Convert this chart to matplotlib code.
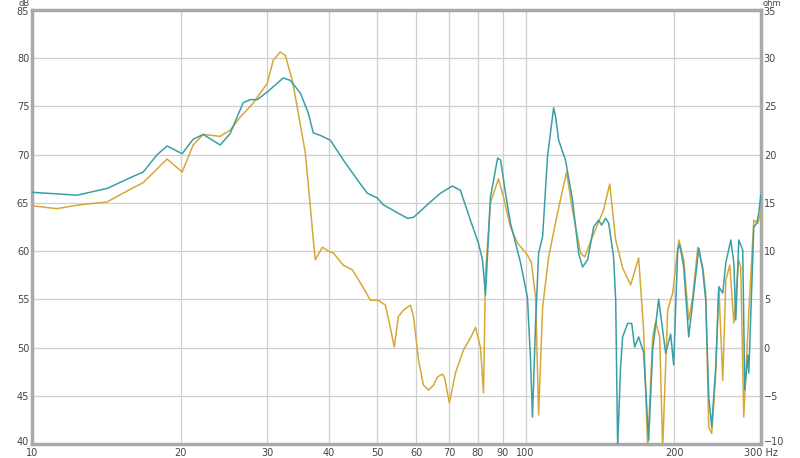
import matplotlib
matplotlib.use("Agg")
import matplotlib.pyplot as plt
import matplotlib.transforms as mtransforms
from matplotlib.ticker import FixedLocator, FixedFormatter, NullLocator

# ---- data (frequency in Hz, level in dB) ----
teal_freq = [10.0, 12.34, 14.2, 15.8, 16.8, 17.93, 18.78, 20.15, 21.21, 22.23, 24.06, 25.21,
             26.79, 27.68, 28.6, 29.97, 32.29, 33.37, 34.97, 36.3, 37.15, 38.39, 40.22, 42.73,
             45.62, 47.8, 50.1, 51.5, 57.63, 59.3, 64.17, 67.24, 71.1, 73.8, 77.34, 80.3, 81.8,
             82.96, 84.9, 87.8, 89.0, 91.1, 93.2, 97.7, 100.9, 102.3, 103.3, 104.8, 106.3, 108.3,
             110.8, 114.0, 115.1, 116.7, 120.5, 124.5, 128.1, 130.5, 133.6, 137.4, 140.6, 142.6,
             145.3, 147.4, 150.8, 152.3, 153.7, 155.8, 157.3, 161.0, 164.1, 166.4, 169.5, 173.5,
             177.6, 181.0, 186.1, 192.3, 196.8, 199.6, 203.4, 205.3, 209.2, 214.1, 219.2, 224.4,
             228.6, 231.8, 235.1, 238.4, 242.9, 246.4, 251.0, 254.6, 260.6, 264.3, 266.7, 270.4,
             275.5, 278.1, 282.1, 283.4, 290.1, 294.2, 296.9, 299.7]
teal_db = [66.1, 65.8, 66.5, 67.6, 68.2, 70.0, 70.9, 70.1, 71.6, 72.1, 71.0, 72.2,
           75.4, 75.7, 75.7, 76.5, 77.95, 77.7, 76.4, 74.3, 72.25, 72.0, 71.5, 69.45,
           67.4, 66.0, 65.5, 64.8, 63.4, 63.5, 65.1, 66.0, 66.75, 66.3, 63.2, 60.8, 59.1,
           55.45, 65.6, 69.65, 69.45, 66.0, 62.9, 58.8, 55.2, 49.0, 42.8, 52.5, 59.8, 61.5,
           69.8, 74.85, 73.9, 71.5, 69.45, 65.3, 59.8, 58.35, 59.1, 62.5, 63.2, 62.7,
           63.4, 62.9, 59.4, 54.9, 39.7, 48.0, 51.1, 52.5, 52.5, 50.05, 51.1, 49.5,
           40.4, 49.75, 55.0, 49.4, 51.4, 48.2, 60.1, 60.7, 58.35, 51.1, 55.65, 60.3,
           58.05, 54.9, 44.9, 41.75, 48.0, 56.3, 55.65, 58.8, 61.15, 58.8, 52.85, 61.15,
           60.1, 45.6, 49.2, 47.35, 62.5, 62.9, 63.95, 65.8]

gold_freq = [10.05, 11.2, 12.51, 14.2, 15.8, 16.8, 18.78, 20.15, 21.21, 22.23, 24.06, 25.21,
             26.42, 28.07, 29.97, 30.82, 31.84, 32.6, 33.69, 34.64, 35.79, 36.64, 37.15, 37.5,
             38.75, 40.22, 40.8, 42.73, 44.6, 46.3, 48.5, 50.3, 52.0, 53.2, 54.2, 55.25, 56.6,
             58.45, 59.3, 60.7, 62.1, 63.6, 65.1, 66.3, 67.85, 68.5, 70.1, 72.1, 74.85, 77.34,
             79.2, 81.03, 82.2, 82.96, 84.9, 88.14, 90.25, 93.2, 96.3, 100.9, 102.8, 104.8,
             106.3, 108.3, 111.4, 116.1, 121.1, 124.5, 129.3, 131.8, 136.7, 143.9, 148.1,
             152.3, 157.3, 163.3, 169.5, 173.5, 176.8, 181.0, 183.5, 187.0, 189.6, 194.1,
             198.7, 204.4, 209.2, 214.1, 218.1, 223.4, 228.6, 231.8, 235.1, 238.4, 242.9,
             246.4, 251.0, 254.6, 259.4, 264.3, 270.4, 272.9, 276.8, 283.4, 290.1, 295.5, 299.7]
gold_db = [64.7, 64.4, 64.8, 65.1, 66.4, 67.1, 69.55, 68.2, 71.0, 72.1, 71.9, 72.55,
           73.9, 75.35, 77.4, 79.8, 80.65, 80.3, 77.7, 74.3, 70.2, 64.6, 61.15, 59.1,
           60.4, 59.9, 59.8, 58.55, 58.05, 56.7, 54.9, 54.9, 54.4, 52.1, 50.05, 53.2, 53.9,
           54.4, 53.2, 48.7, 46.1, 45.6, 46.1, 46.95, 47.25, 46.95, 44.25, 47.35, 49.75, 51.0,
           52.1, 50.05, 45.3, 57.7, 65.0, 67.5, 65.6, 62.5, 60.85, 59.6, 58.8, 55.2,
           43.0, 54.2, 59.4, 63.95, 68.2, 64.25, 59.8, 59.4, 61.5, 64.25, 66.95,
           61.15, 58.25, 56.5, 59.3, 51.8, 39.5, 51.1, 52.65, 51.1, 39.5, 53.9,
           55.65, 61.15, 59.1, 52.85, 55.2, 60.4, 58.35, 55.65, 41.75, 41.1, 47.35,
           56.3, 46.6, 57.0, 58.55, 52.55, 59.1, 58.35, 42.8, 53.6, 63.2, 62.9, 63.95]

x_ticks = [10, 20, 30, 40, 50, 60, 70, 80, 90, 100, 200, 300]
x_labels = ["10", "20", "30", "40", "50", "60", "70", "80", "90", "100", "200", "300 Hz"]
db_ticks = [40, 45, 50, 55, 60, 65, 70, 75, 80, 85]
ohm_ticks = [-10, -5, 0, 5, 10, 15, 20, 25, 30, 35]

TEAL = "#3a9ea6"
GOLD = "#d6a838"
GRID = "#cfcfcf"
SPINE = "#a9a9a9"
TXT = "#444444"

fig = plt.figure(figsize=(8, 4.58), dpi=100)
ax = fig.add_axes([32 / 800, 14 / 458, (761 - 32) / 800, (444 - 10) / 458])

ax.plot(gold_freq, gold_db, color=GOLD, lw=1.1, zorder=3)
ax.plot(teal_freq, teal_db, color=TEAL, lw=1.1, zorder=4)

ax.set_xscale("log")
ax.set_xlim(10, 300)
ax.set_ylim(40, 85)
ax.xaxis.set_major_locator(FixedLocator(x_ticks))
ax.xaxis.set_major_formatter(FixedFormatter(x_labels))
ax.xaxis.set_minor_locator(NullLocator())
ax.set_yticks(db_ticks)
ax.grid(True, color=GRID, lw=0.9, zorder=0)
ax.set_axisbelow(True)
ax.tick_params(axis="y", length=0, labelsize=7, colors=TXT, pad=2)
ax.tick_params(axis="x", length=0, labelsize=7, colors=TXT, pad=3)

for s in ax.spines.values():
    s.set_color(SPINE)
    s.set_linewidth(2.5)

ax2 = ax.twinx()
ax2.set_ylim(-10, 35)
ax2.set_yticks(ohm_ticks)
ax2.tick_params(axis="y", length=0, labelsize=7, colors=TXT, pad=2)
for s in ax2.spines.values():
    s.set_visible(False)

# small vertical nudges of end labels, as in the reference
up = mtransforms.ScaledTranslation(0, 2 / 72, fig.dpi_scale_trans)
down = mtransforms.ScaledTranslation(0, -1 / 72, fig.dpi_scale_trans)
ylabels_left = ax.get_yticklabels()
ylabels_right = ax2.get_yticklabels()
ylabels_left[0].set_transform(ylabels_left[0].get_transform() + up)
ylabels_right[0].set_transform(ylabels_right[0].get_transform() + up)
ylabels_left[-1].set_transform(ylabels_left[-1].get_transform() + down)
ylabels_right[-1].set_transform(ylabels_right[-1].get_transform() + down)

ax.annotate("dB", xy=(0, 1), xycoords="axes fraction", xytext=(-6, 3.2),
            textcoords="offset points", ha="center", va="baseline", fontsize=6, color=TXT)
ax.annotate("ohm", xy=(1, 1), xycoords="axes fraction", xytext=(8, 3.2),
            textcoords="offset points", ha="center", va="baseline", fontsize=6, color=TXT)

fig.savefig("out.png", dpi=100)
